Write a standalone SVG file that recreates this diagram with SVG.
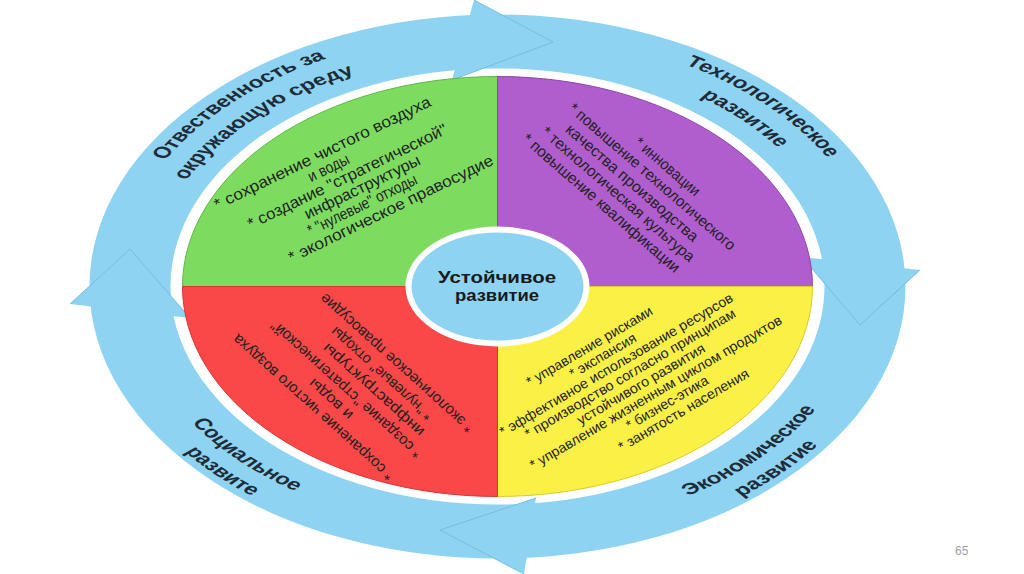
<svg xmlns="http://www.w3.org/2000/svg" width="1024" height="574" viewBox="0 0 1024 574">
<style>
.band{fill:#8ed3f1;fill-rule:evenodd}
.head{fill:#8ed3f1}
.edge{fill:none;stroke:#74bfe2;stroke-width:1}
.q{stroke-width:1;vector-effect:non-scaling-stroke}
.qt{font-family:"Liberation Sans",Arial,sans-serif;fill:#222;text-anchor:middle}
.lbl{font-family:"Liberation Sans",Arial,sans-serif;font-weight:bold;font-size:16px;fill:#1e2b38}
.ct{font-family:"Liberation Sans",Arial,sans-serif;font-weight:bold;font-size:16px;fill:#1a1a1a;text-anchor:middle}
</style>
<defs>
<path id="ul1" d="M -247.9 59.6 A 255 255 0 0 1 72.4 -244.5"/>
<path id="ul2" d="M -226.6 54.4 A 233 233 0 0 1 66.2 -223.4"/>
<path id="ur1" d="M -68.1 -245.7 A 255 255 0 0 1 246.9 63.9"/>
<path id="ur2" d="M -62.3 -224.5 A 233 233 0 0 1 225.6 58.3"/>
<path id="ll1" d="M -236.9 -62.6 A 245 245 0 0 0 64.2 236.4"/>
<path id="ll2" d="M -257.2 -67.9 A 266 266 0 0 0 69.7 256.7"/>
<path id="lr1" d="M -60.9 237.3 A 245 245 0 0 0 236.0 -65.9"/>
<path id="lr2" d="M -66.2 257.6 A 266 266 0 0 0 256.2 -71.5"/>
</defs>
<rect width="1024" height="574" fill="#ffffff"/>

<g id="connectors">
  <g transform="translate(497.5,286.5) scale(1.5,1)">
    <path class="band" d="M -272 0 A 272 272 0 1 1 272 0 A 272 272 0 1 1 -272 0 Z M -218 0 A 218 218 0 1 1 218 0 A 218 218 0 1 1 -218 0 Z"/>
  </g>
  <polygon class="head" points="474,0 553,42 452,80"/>
  <polyline class="edge" points="474,0 553,42 452,80"/>
  <polygon class="head" points="920,270 860,325 802,257"/>
  <polyline class="edge" points="920,270 860,325 802,257"/>
  <polygon class="head" points="524,574 440,530 536,498"/>
  <polyline class="edge" points="524,574 440,530 536,498"/>
  <polygon class="head" points="70,304 130,249 190,318"/>
  <polyline class="edge" points="70,304 130,249 190,318"/>
</g>

<g id="ring-labels" transform="translate(497.5,286.5) scale(1.5,1)">
  <text class="lbl"><textPath href="#ul1" startOffset="50%" text-anchor="middle">Отвественность за</textPath></text>
  <text class="lbl"><textPath href="#ul2" startOffset="50%" text-anchor="middle">окружающую среду</textPath></text>
  <text class="lbl"><textPath href="#ur1" startOffset="50%" text-anchor="middle">Технологическое</textPath></text>
  <text class="lbl"><textPath href="#ur2" startOffset="50%" text-anchor="middle">развитие</textPath></text>
  <text class="lbl"><textPath href="#ll1" startOffset="50%" text-anchor="middle">Социальное</textPath></text>
  <text class="lbl"><textPath href="#ll2" startOffset="50%" text-anchor="middle">развите</textPath></text>
  <text class="lbl"><textPath href="#lr1" startOffset="50%" text-anchor="middle">Экономическое</textPath></text>
  <text class="lbl"><textPath href="#lr2" startOffset="50%" text-anchor="middle">развитие</textPath></text>
</g>

<g id="quadrants" transform="translate(497.5,286.5) scale(1.5,1)">
  <path id="q-green" class="q" fill="#7ddc5f" stroke="#5fb848" d="M0 0 L-210 0 A210 210 0 0 1 0 -210 Z"/>
  <path id="q-purple" class="q" fill="#b05ecd" stroke="#9046ad" d="M0 0 L0 -210 A210 210 0 0 1 210 0 Z"/>
  <path id="q-yellow" class="q" fill="#faf046" stroke="#d8cc2c" d="M0 0 L210 0 A210 210 0 0 1 0 210 Z"/>
  <path id="q-red" class="q" fill="#fa4848" stroke="#d83434" d="M0 0 L0 210 A210 210 0 0 1 -210 0 Z"/>
</g>

<g id="green-text" class="qt" font-size="16" transform="translate(190,80) rotate(-26)">
  <text x="87" y="129" textLength="239" lengthAdjust="spacingAndGlyphs">* сохранение чистого воздуха</text>
  <text x="86" y="145" textLength="44" lengthAdjust="spacingAndGlyphs">и воды</text>
  <text x="99" y="161" textLength="220" lengthAdjust="spacingAndGlyphs">* создание "стратегической"</text>
  <text x="108" y="177" textLength="127" lengthAdjust="spacingAndGlyphs">инфраструктуры</text>
  <text x="100" y="193" textLength="120" lengthAdjust="spacingAndGlyphs">* "нулевые" отходы</text>
  <text x="124" y="209" textLength="226" lengthAdjust="spacingAndGlyphs">* экологическое правосудие</text>
</g>

<g id="purple-text" class="qt" font-size="15.5" transform="translate(495,80) rotate(41)">
  <text x="187" y="-42.7" textLength="81" lengthAdjust="spacingAndGlyphs">* инновации</text>
  <text x="182" y="-25" textLength="215" lengthAdjust="spacingAndGlyphs">* повышение технологического</text>
  <text x="171" y="-7.2" textLength="170" lengthAdjust="spacingAndGlyphs">качества производства</text>
  <text x="168" y="10.5" textLength="197" lengthAdjust="spacingAndGlyphs">* технологическая культура</text>
  <text x="161" y="28.3" textLength="203" lengthAdjust="spacingAndGlyphs">* повышение квалификации</text>
</g>

<g id="red-text" class="qt" font-size="15" transform="translate(180,285) rotate(-138)">
  <text x="-180.7" y="3" textLength="210" lengthAdjust="spacingAndGlyphs">* сохранение чистого воздуха</text>
  <text x="-188.5" y="20.7" textLength="54" lengthAdjust="spacingAndGlyphs">и воды</text>
  <text x="-193" y="38.4" textLength="197" lengthAdjust="spacingAndGlyphs">* создание "стратегической"</text>
  <text x="-214" y="56.2" textLength="131" lengthAdjust="spacingAndGlyphs">инфраструктуры</text>
  <text x="-209" y="74" textLength="131" lengthAdjust="spacingAndGlyphs">* "нулевые" отходы</text>
  <text x="-213" y="91.7" textLength="200" lengthAdjust="spacingAndGlyphs">* экологическое правосудие</text>
</g>

<g id="yellow-text" class="qt" font-size="14" transform="translate(495,285) rotate(-30.5)">
  <text x="50.2" y="105.5" textLength="144" lengthAdjust="spacingAndGlyphs">* управление рисками</text>
  <text x="57" y="120.2" textLength="75" lengthAdjust="spacingAndGlyphs">* экспансия</text>
  <text x="64" y="134.8" textLength="268" lengthAdjust="spacingAndGlyphs">* эффективное использование ресурсов</text>
  <text x="71.5" y="149.5" textLength="242" lengthAdjust="spacingAndGlyphs">* производство согласно принципам</text>
  <text x="75.5" y="164.2" textLength="146" lengthAdjust="spacingAndGlyphs">устойчивого развития</text>
  <text x="84" y="178.8" textLength="290" lengthAdjust="spacingAndGlyphs">* управление жизненным циклом продуктов</text>
  <text x="88.7" y="193.5" textLength="93" lengthAdjust="spacingAndGlyphs">* бизнес-этика</text>
  <text x="99" y="208.2" textLength="149" lengthAdjust="spacingAndGlyphs">* занятость населения</text>
</g>

<g id="center">
  <ellipse cx="497.5" cy="286.5" rx="92" ry="60" fill="#ffffff"/>
  <ellipse cx="497.5" cy="286.5" rx="86" ry="54" fill="#8ed3f1"/>
  <text class="ct" x="497" y="283" textLength="118" lengthAdjust="spacingAndGlyphs">Устойчивое</text>
  <text class="ct" x="497" y="301" textLength="84" lengthAdjust="spacingAndGlyphs">развитие</text>
</g>

<text id="page-number" x="955" y="555" font-family="Liberation Sans, Arial, sans-serif" font-size="12" fill="#a0a0a0">65</text>
</svg>
